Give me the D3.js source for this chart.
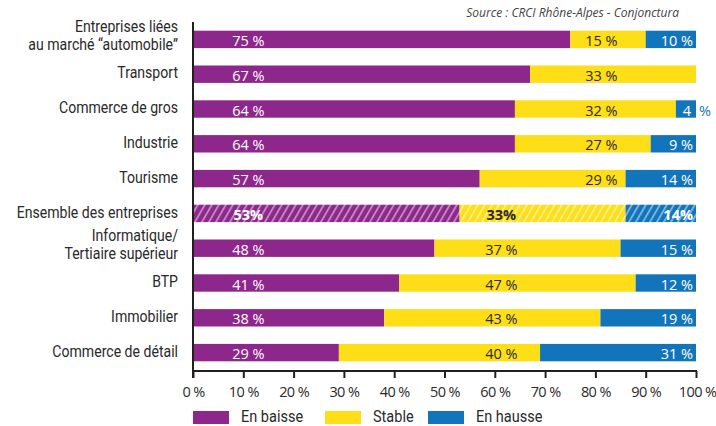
<!DOCTYPE html>
<html><head><meta charset="utf-8">
<script src="https://cdn.jsdelivr.net/npm/d3@7"></script>
<style>
body{margin:0;background:#fff;}
svg{display:block;}
</style></head>
<body><svg id="c" width="716" height="426"></svg>
<script>
const categories = [
  ["Entreprises liées", "au marché “automobile”"],
  ["Transport"],
  ["Commerce de gros"],
  ["Industrie"],
  ["Tourisme"],
  ["Ensemble des entreprises"],
  ["Informatique/", "Tertiaire supérieur"],
  ["BTP"],
  ["Immobilier"],
  ["Commerce de détail"]
];
const enBaisse = [75, 67, 64, 64, 57, 53, 48, 41, 38, 29];
const stable   = [15, 33, 32, 27, 29, 33, 37, 47, 43, 40];
const enHausse = [10, 0, 4, 9, 14, 14, 15, 12, 19, 31];
const seriesNames = ["En baisse", "Stable", "En hausse"];
const xTicks = [0,10,20,30,40,50,60,70,80,90,100];
const highlightIndex = 5;
const sourceText = "Source : CRCI Rhône-Alpes - Conjonctura";

const colors = ["#8e278b", "#fede17", "#1275bc"];
const catFont = "'Roboto','Liberation Sans',sans-serif";
const numFont = "'Open Sans','Lato',sans-serif";
const squeeze = 0.88;

const svg = d3.select("#c");
const x = d3.scaleLinear().domain([0,100]).range([193,696]);
const y = d3.scaleBand().domain(d3.range(categories.length)).range([22,370]).paddingInner(0.5).paddingOuter(0.25);

// hatch patterns
const defs = svg.append("defs");
colors.forEach((c,i)=>{
  const p = defs.append("pattern").attr("id","h"+i).attr("patternUnits","userSpaceOnUse")
    .attr("width",7).attr("height",7).attr("patternTransform","skewX(-30)");
  p.append("rect").attr("width",7).attr("height",7).attr("fill",c);
  p.append("rect").attr("x",0).attr("width",2.2).attr("height",7).attr("fill","#fff").attr("opacity",0.45);
});

const rows = categories.map((c,i)=>({i, vals:[enBaisse[i], stable[i], enHausse[i]]}));

const g = svg.append("g");
rows.forEach(r=>{
  let acc = 0;
  r.vals.forEach((v,k)=>{
    if(v<=0){ return; }
    g.append("rect")
      .attr("x", x(acc)).attr("y", y(r.i))
      .attr("width", x(acc+v)-x(acc)).attr("height", y.bandwidth())
      .attr("fill", r.i===highlightIndex ? `url(#h${k})` : colors[k]);
    acc += v;
  });
});

// value labels
const cy = i => y(i) + y.bandwidth()/2;
rows.forEach(r=>{
  const hl = r.i===highlightIndex;
  const fmt = v => hl ? v+"%" : v+" %";
  const mk = (tx, anchor, fill, txt) => g.append("text").attr("x",tx).attr("y",cy(r.i)+1)
      .attr("text-anchor",anchor).attr("fill",fill).attr("font-weight", hl?"700":"400")
      .attr("font-family",numFont).attr("font-size","14.5px").attr("dominant-baseline","central")
      .text(txt);
  mk(x(11), "middle", "#fff", fmt(r.vals[0]));
  const col = r.vals[0] >= 55 ? 81.2 : 61.3;
  mk(x(col), "middle", "#2a2a2a", fmt(r.vals[1]));
  const h = r.vals[2];
  if(h>0){
    if(h<5){
      mk(x(100)-5, "end", "#fff", String(h));
      mk(x(100)+3, "start", colors[2], "%");
    } else {
      mk(x(100)-3, "end", "#fff", fmt(h));
    }
  }
});

// axes lines
svg.append("line").attr("x1",x(0)).attr("x2",x(0)).attr("y1",22).attr("y2",378)
  .attr("stroke","#231f20").attr("stroke-width",2);
svg.append("line").attr("x1",x(0)-1).attr("x2",x(100)+1).attr("y1",371).attr("y2",371)
  .attr("stroke","#231f20").attr("stroke-width",2);
const xa = svg.append("g").attr("transform","translate(0,371)")
  .call(d3.axisBottom(x).tickValues(xTicks).tickSize(7).tickFormat(d=>d+" %"));
xa.select(".domain").remove();
xa.selectAll(".tick line").attr("stroke","#231f20").attr("stroke-width",2);
xa.selectAll(".tick text").attr("font-family",numFont).attr("font-size","14.5px")
  .attr("fill","#2a2a2a").attr("y",16).attr("dy","0.71em").attr("letter-spacing","-0.6px");
xa.selectAll(".tick").filter(d=>d===100).select("text").attr("text-anchor","end").attr("dx","20");

// category labels (horizontally condensed)
rows.forEach(r=>{
  const lines = categories[r.i];
  const lh = 17.5;
  const off = lines.length>1 ? -3.5 : -1;
  const t = svg.append("g").attr("transform",`translate(178,0) scale(${squeeze},1)`)
    .append("text").attr("text-anchor","end").attr("font-family",catFont)
    .attr("font-size","16px").attr("fill","#2a2a2a");
  lines.forEach((l,j)=>{
    t.append("tspan").attr("x",0)
      .attr("y", cy(r.i) + off + (j-(lines.length-1)/2)*lh)
      .attr("dominant-baseline","central").text(l);
  });
});

// source
svg.append("text").attr("x",679).attr("y",17).attr("text-anchor","end")
  .attr("font-family","'Open Sans',sans-serif").attr("font-style","italic").attr("font-size","12px")
  .attr("fill","#444").text(sourceText);

// legend
const legX = [193, 325, 428];
seriesNames.forEach((n,k)=>{
  svg.append("rect").attr("x",legX[k]).attr("y",411).attr("width",36).attr("height",13).attr("fill",colors[k]);
  svg.append("g").attr("transform",`translate(${legX[k]+48},0) scale(${squeeze},1)`)
    .append("text").attr("x",0).attr("y",417).attr("dominant-baseline","central")
    .attr("font-family",catFont).attr("font-size","16.5px").attr("fill","#2a2a2a").text(n);
});
</script></body></html>
